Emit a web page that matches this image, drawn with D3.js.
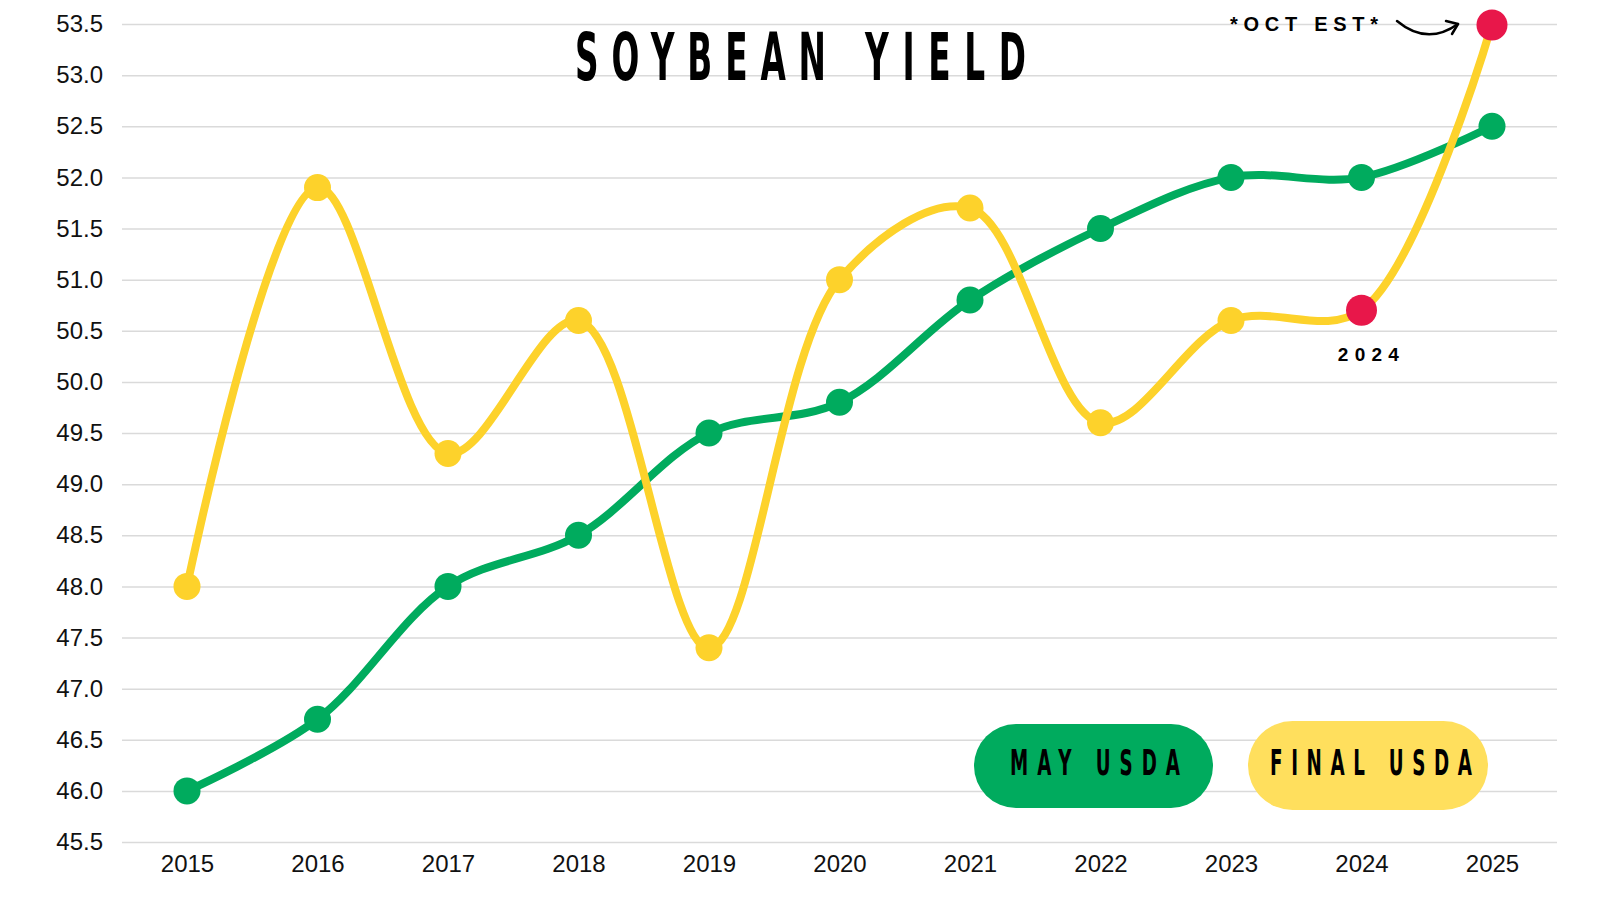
<!DOCTYPE html>
<html>
<head>
<meta charset="utf-8">
<script src="https://cdn.jsdelivr.net/npm/d3@7"></script>
<style>
  html, body { margin: 0; padding: 0; background: #ffffff; }
  svg { display: block; }
</style>
</head>
<body>
<svg id="chart" width="1600" height="900"></svg>
<script>
// ---- data ----
const years = ["2015","2016","2017","2018","2019","2020","2021","2022","2023","2024","2025"];
const mayUSDA = [46.0, 46.7, 48.0, 48.5, 49.5, 49.8, 50.8, 51.5, 52.0, 52.0, 52.5];
const finalUSDA = [48.0, 51.9, 49.3, 50.6, 47.4, 51.0, 51.7, 49.6, 50.6, 50.7, 53.5];
const highlightYears = ["2024", "2025"];
const yTicks = [45.5, 46.0, 46.5, 47.0, 47.5, 48.0, 48.5, 49.0, 49.5, 50.0, 50.5, 51.0, 51.5, 52.0, 52.5, 53.0, 53.5];
const titleWords = ["SOYBEAN", "YIELD"];
const legendLabels = ["MAY USDA", "FINAL USDA"];
const noteText = "*OCT EST*";
const pointLabel = "2024";

// ---- styles ----
const GREEN = "#00AB5E", YELLOW = "#FDD22B", YELLOW_PILL = "#FFDF5D", RED = "#E8174A";
const svg = d3.select("#chart");
svg.append("rect").attr("width", 1600).attr("height", 900).attr("fill", "#fff");

const x = d3.scalePoint().domain(years).range([187, 1492]);
const y = d3.scaleLinear().domain([45.5, 53.5]).range([842, 24]);
const gridLeft = 122, gridRight = 1557;

// y axis + grid
const yAxis = svg.append("g")
  .attr("transform", `translate(${gridLeft},0)`)
  .call(d3.axisLeft(y).tickValues(yTicks).tickFormat(d3.format(".1f"))
        .tickSize(-(gridRight - gridLeft)).tickPadding(19));
yAxis.select(".domain").remove();
yAxis.selectAll(".tick line").attr("stroke", "#dadada").attr("stroke-width", 1.5);
yAxis.selectAll(".tick text").attr("font-family", "'Liberation Sans', Arial, sans-serif")
  .attr("font-size", 24).attr("fill", "#111");

// x axis
const xAxis = svg.append("g")
  .attr("transform", `translate(0,${y(45.5)})`)
  .call(d3.axisBottom(x).tickSize(0).tickPadding(13));
xAxis.select(".domain").remove();
xAxis.selectAll(".tick text").attr("font-family", "'Liberation Sans', Arial, sans-serif")
  .attr("font-size", 24).attr("fill", "#111");

// condensed text helper (Bebas-like look)
function condensed(parent, str, x0, x1, baseline, size, sx) {
  const g = parent.append("g").attr("transform", `translate(${x0},${baseline}) scale(${sx},1)`);
  g.append("text")
    .attr("x", 0).attr("y", 0)
    .attr("font-family", "'Liberation Sans Narrow', 'DejaVu Sans Condensed', 'Liberation Sans', sans-serif")
    .attr("font-weight", "bold")
    .attr("font-size", size)
    .attr("fill", "#000")
    .attr("textLength", (x1 - x0) / sx)
    .attr("lengthAdjust", "spacing")
    .text(str);
  return g;
}

// title
condensed(svg, titleWords[0], 575, 826, 80, 65, 0.56);
condensed(svg, titleWords[1], 865, 1026, 80, 65, 0.56);

// line generator
const line = d3.line()
  .x((d, i) => x(years[i]))
  .y(d => y(d))
  .curve(d3.curveCatmullRom.alpha(0.5));

// green series
svg.append("path").datum(mayUSDA).attr("d", line)
  .attr("fill", "none").attr("stroke", GREEN).attr("stroke-width", 8).attr("stroke-linecap", "round");
svg.append("g").selectAll("circle").data(mayUSDA).join("circle")
  .attr("cx", (d, i) => x(years[i])).attr("cy", d => y(d)).attr("r", 13.5).attr("fill", GREEN);

// yellow series
svg.append("path").datum(finalUSDA).attr("d", line)
  .attr("fill", "none").attr("stroke", YELLOW).attr("stroke-width", 8).attr("stroke-linecap", "round");
svg.append("g").selectAll("circle").data(finalUSDA).join("circle")
  .attr("cx", (d, i) => x(years[i]))
  .attr("cy", (d, i) => y(d) + (years[i] === "2025" ? 1 : 0))
  .attr("r", (d, i) => highlightYears.includes(years[i]) ? 15.5 : 13.5)
  .attr("fill", (d, i) => highlightYears.includes(years[i]) ? RED : YELLOW);

// annotations
const i24 = years.indexOf("2024"), i25 = years.indexOf("2025");
svg.append("text")
  .attr("x", x(years[i24]) + 10).attr("y", y(finalUSDA[i24]) + 51)
  .attr("text-anchor", "middle")
  .attr("font-family", "'Liberation Sans', Arial, sans-serif")
  .attr("font-weight", "bold").attr("font-size", 19)
  .attr("letter-spacing", 6.3)
  .attr("fill", "#000")
  .text(pointLabel);

const nx = x(years[i25]), ny = y(finalUSDA[i25]);
svg.append("text")
  .attr("x", nx - 262).attr("y", ny + 7)
  .attr("font-family", "'Liberation Sans', Arial, sans-serif")
  .attr("font-weight", "bold").attr("font-size", 20)
  .attr("textLength", 148).attr("lengthAdjust", "spacing")
  .attr("fill", "#000")
  .text(noteText);
svg.append("path")
  .attr("d", `M${nx - 95},${ny - 3} Q${nx - 65},${ny + 22} ${nx - 34},${ny}`)
  .attr("fill", "none").attr("stroke", "#000").attr("stroke-width", 2.5).attr("stroke-linecap", "round");
svg.append("path")
  .attr("d", `M${nx - 46},${ny - 3} L${nx - 34},${ny} L${nx - 40},${ny + 10}`)
  .attr("fill", "none").attr("stroke", "#000").attr("stroke-width", 2.5)
  .attr("stroke-linecap", "round").attr("stroke-linejoin", "round");

// legend pills
const pills = [
  { label: legendLabels[0], x0: 974, w: 239, y0: 724, h: 84, fill: GREEN, t0: 1010, t1: 1180 },
  { label: legendLabels[1], x0: 1248, w: 240, y0: 721, h: 89, fill: YELLOW_PILL, t0: 1270, t1: 1472 }
];
pills.forEach(p => {
  svg.append("rect").attr("x", p.x0).attr("y", p.y0).attr("width", p.w).attr("height", p.h)
    .attr("rx", p.h / 2).attr("ry", p.h / 2).attr("fill", p.fill);
  condensed(svg, p.label, p.t0, p.t1, 775, 35, 0.58);
});
</script>
</body>
</html>
